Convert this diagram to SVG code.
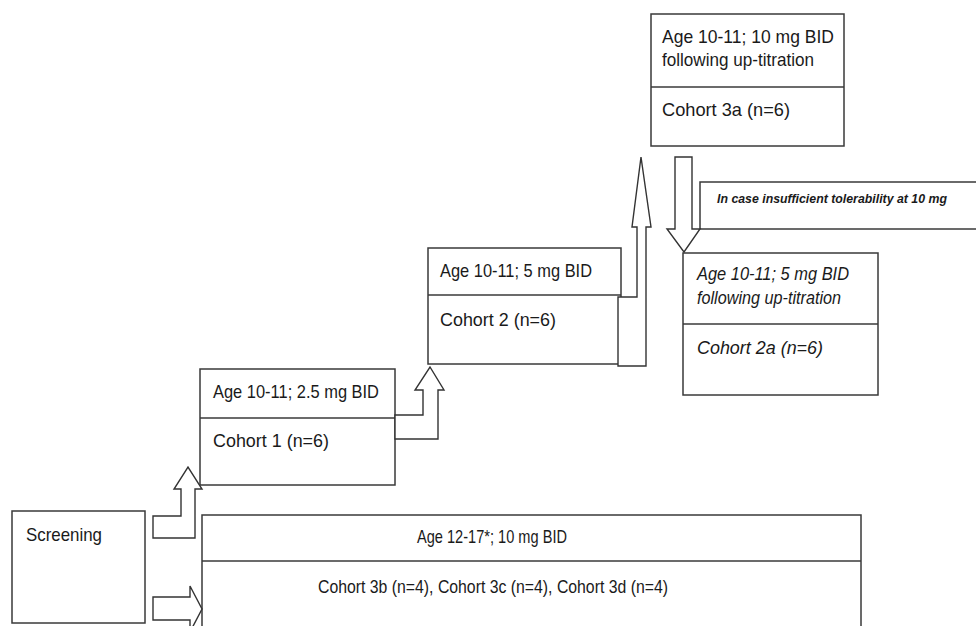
<svg xmlns="http://www.w3.org/2000/svg" width="976" height="626" viewBox="0 0 976 626">
<style>
.box{fill:#fff;stroke:#3a3a3a;stroke-width:1.5}
.div{stroke:#3a3a3a;stroke-width:1.5}
.arr{fill:#fff;stroke:#333;stroke-width:1.4;stroke-linejoin:miter}
.t{font-family:"Liberation Sans",Arial,sans-serif;font-size:18.5px;fill:#1a1a1a}
.i{font-style:italic}
.n{font-family:"Liberation Sans",Arial,sans-serif;font-size:13px;font-weight:bold;font-style:italic;fill:#1a1a1a}
</style>
<rect width="976" height="626" fill="#fff"/>
<g id="screening">
<rect class="box" x="12" y="511" width="133" height="112"/>
<text class="t" x="26" y="541" textLength="76" lengthAdjust="spacingAndGlyphs">Screening</text>
</g>
<g id="cohort1">
<rect class="box" x="200" y="369" width="195" height="116"/>
<line class="div" x1="200" y1="418" x2="395" y2="418"/>
<text class="t" x="213" y="398" textLength="166" lengthAdjust="spacingAndGlyphs">Age 10-11; 2.5 mg BID</text>
<text class="t" x="213" y="447" textLength="116" lengthAdjust="spacingAndGlyphs">Cohort 1 (n=6)</text>
</g>
<g id="cohort2">
<rect class="box" x="428" y="248" width="193" height="116"/>
<line class="div" x1="428" y1="295" x2="621" y2="295"/>
<text class="t" x="440" y="277" textLength="152" lengthAdjust="spacingAndGlyphs">Age 10-11; 5 mg BID</text>
<text class="t" x="440" y="326" textLength="116" lengthAdjust="spacingAndGlyphs">Cohort 2 (n=6)</text>
</g>
<g id="cohort3a">
<rect class="box" x="651" y="14" width="193" height="132"/>
<line class="div" x1="651" y1="87" x2="844" y2="87"/>
<text class="t" x="662" y="43" textLength="172" lengthAdjust="spacingAndGlyphs">Age 10-11; 10 mg BID</text>
<text class="t" x="662" y="66" textLength="152" lengthAdjust="spacingAndGlyphs">following up-titration</text>
<text class="t" x="662" y="116" textLength="128" lengthAdjust="spacingAndGlyphs">Cohort 3a (n=6)</text>
</g>
<g id="note">
<rect class="box" x="700" y="182" width="290" height="47"/>
<text class="n" x="717" y="203" textLength="230" lengthAdjust="spacingAndGlyphs">In case insufficient tolerability at 10 mg</text>
</g>
<g id="cohort2a">
<rect class="box" x="683" y="253" width="195" height="142"/>
<line class="div" x1="683" y1="324" x2="878" y2="324"/>
<text class="t i" x="697" y="280" textLength="152" lengthAdjust="spacingAndGlyphs">Age 10-11; 5 mg BID</text>
<text class="t i" x="697" y="304" textLength="144" lengthAdjust="spacingAndGlyphs">following up-titration</text>
<text class="t i" x="697" y="354" textLength="126" lengthAdjust="spacingAndGlyphs">Cohort 2a (n=6)</text>
</g>
<g id="cohort3bcd">
<rect class="box" x="202" y="515" width="659" height="130"/>
<line class="div" x1="202" y1="561" x2="861" y2="561"/>
<text class="t" x="417" y="543" textLength="150" lengthAdjust="spacingAndGlyphs">Age 12-17*; 10 mg BID</text>
<text class="t" x="318" y="593" textLength="350" lengthAdjust="spacingAndGlyphs">Cohort 3b (n=4), Cohort 3c (n=4), Cohort 3d (n=4)</text>
</g>
<g id="connectors">
<polygon class="arr" points="153,516 181,516 181,489 174,489 188,467 202,489 195,489 195,538 153,538"/>
<polygon class="arr" points="153,597 190,597 190,586 202,609 190,632 190,620 153,620"/>
<polygon class="arr" points="395,415 423,415 423,390 415,390 430,367 444,390 438,390 438,439 395,439"/>
<polygon class="arr" points="618,297 637,297 637,227 632,227 641,157 651,227 646,227 646,366 618,366"/>
<polygon class="arr" points="675,157 692,157 692,229 700,229 684,252 667,229 675,229"/>
</g>
</svg>
